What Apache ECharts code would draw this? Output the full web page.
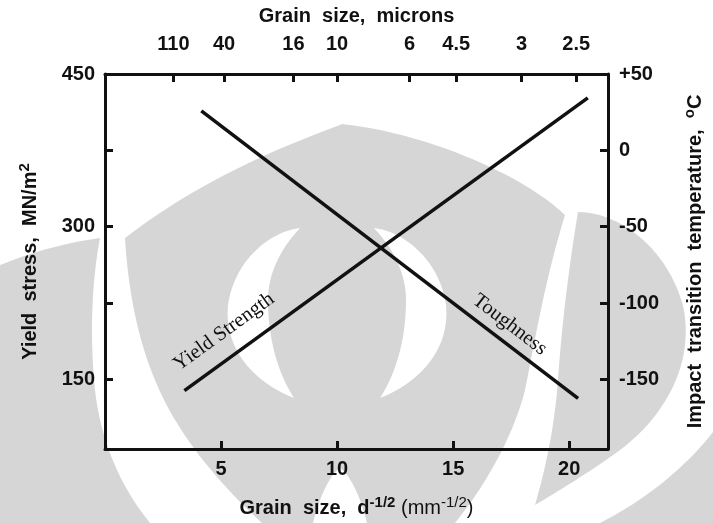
<!DOCTYPE html>
<html><head><meta charset="utf-8">
<script src="https://cdn.jsdelivr.net/npm/echarts@6/dist/echarts.min.js"></script>
<style>html,body{margin:0;padding:0;background:#fff}#c{width:713px;height:523px}</style>
</head><body><div id="c"></div>
<script>
// Data
const yieldX = [3.42, 20.8];
const yieldStress = [139, 426.5];           // MN/m^2, left axis
const toughX = [4.15, 20.38];
const toughTemp = [25.9, -162.4];           // deg C, right axis
const bottomTicks = [5, 10, 15, 20];
const topTickPos = [2.95, 5.13, 8.12, 10.0, 13.12, 15.13, 17.95, 20.3];
const topTickLabels = ['110', '40', '16', '10', '6', '4.5', '3', '2.5'];
const leftTicks = [150, 225, 300, 375, 450];
const leftLabels = [150, 300, 450];
const rightTicks = [-150, -100, -50, 0, 50];
const labelYield = {text: 'Yield Strength', at: [5.13, 196.8]};
const labelTough = {text: 'Toughness', at: [17.44, -114.2]};

const X_MIN = 0, X_MAX = 21.67;
const Y_MIN = 81.6, Y_MAX = 450;
const T_MIN = -195.6, T_MAX = 50;

const sans = '"Liberation Sans", Arial, sans-serif';
const serif = '"Liberation Serif", "Times New Roman", serif';
const ink = '#111';
const wmGray = '#d6d6d6';
const axisLine = {show: true, onZero: false, lineStyle: {color: ink, width: 3}};
const tick = (vals) => ({show: true, inside: true, length: 8, lineStyle: {color: ink, width: 3}, customValues: vals});
const lab = {color: ink, fontFamily: sans, fontWeight: 'bold', fontSize: 20};
const nameRich = {
  a: {fontFamily: sans, fontWeight: 'bold', fontSize: 20, color: ink, lineHeight: 26},
  n: {fontFamily: sans, fontWeight: 'normal', fontSize: 20, color: ink, lineHeight: 26},
  sup: {fontFamily: sans, fontWeight: 'bold', fontSize: 15, color: ink, verticalAlign: 'top', lineHeight: 16},
  supn: {fontFamily: sans, fontWeight: 'normal', fontSize: 15, color: ink, verticalAlign: 'top', lineHeight: 16}
};

// Background watermark (decorative logo shapes in the scanned source)
const watermark = [
  {fill: wmGray, d: 'M342,124 C318,134 215,168 125,238 C128,290 138,340 155,380 C175,430 215,480 262,523 L313,523 C320,495 330,475 340,468 C350,475 360,495 367,523 L455,523 C490,480 515,430 525,390 C535,340 545,280 565,215 C520,172 420,132 342,124 Z'},
  {fill: wmGray, d: 'M-30,280 C0,262 50,245 100,238 C92,280 90,330 94,380 C98,430 115,480 150,523 L-30,523 Z'},
  {fill: wmGray, d: 'M578,212 C620,212 670,250 684,310 C694,370 660,420 620,450 C590,472 560,490 535,505 C548,460 555,420 558,380 C562,320 570,260 578,212 Z'},
  {fill: wmGray, d: 'M713,432 C685,468 645,500 600,523 L713,523 Z'},
  {fill: '#fff', d: 'M300,228 C268,232 234,262 228,305 C224,345 249,380 294,398 C276,370 268,335 268,300 C268,270 284,245 300,228 Z'},
  {fill: '#fff', d: 'M374,228 C406,232 440,262 446,305 C450,345 425,380 380,398 C398,370 406,335 406,300 C406,270 390,245 374,228 Z'}
];

// turn a simple absolute M/L/C/Z path into polygon points
function pathToPoints(d) {
  const tok = d.match(/[MLCZ]|-?\d+(\.\d+)?/g);
  const pts = []; let i = 0, cmd = null, cur = [0, 0];
  const num = () => parseFloat(tok[i++]);
  while (i < tok.length) {
    if (/[MLCZ]/.test(tok[i])) cmd = tok[i++];
    if (cmd === 'Z') break;
    if (cmd === 'M' || cmd === 'L') { cur = [num(), num()]; pts.push(cur); }
    else if (cmd === 'C') {
      const p1 = [num(), num()], p2 = [num(), num()], p3 = [num(), num()], p0 = cur;
      for (let k = 1; k <= 24; k++) {
        const t = k / 24, u = 1 - t;
        pts.push([u*u*u*p0[0] + 3*u*u*t*p1[0] + 3*u*t*t*p2[0] + t*t*t*p3[0],
                  u*u*u*p0[1] + 3*u*u*t*p1[1] + 3*u*t*t*p2[1] + t*t*t*p3[1]]);
      }
      cur = p3;
    }
  }
  return pts;
}

const chart = echarts.init(document.getElementById('c'), null, {renderer: 'canvas'});
const option = {
  animation: false,
  backgroundColor: '#fff',
  grid: {left: 105, right: 101, top: 74, bottom: 72, containLabel: false},
  xAxis: [{
    type: 'value', position: 'bottom', min: X_MIN, max: X_MAX,
    axisLine, axisTick: tick(bottomTicks), splitLine: {show: false},
    axisLabel: Object.assign({}, lab, {customValues: bottomTicks, margin: 10}),
    name: '{a|Grain  size,  d}{sup|-1/2}{n| (mm}{supn|-1/2}{n|)}',
    nameLocation: 'middle', nameGap: 46,
    nameTextStyle: {rich: nameRich}
  }, {
    type: 'value', position: 'top', min: X_MIN, max: X_MAX,
    axisLine, axisTick: tick(topTickPos), splitLine: {show: false},
    axisLabel: Object.assign({}, lab, {customValues: topTickPos, margin: 20,
      formatter: (v) => { const i = topTickPos.findIndex(p => Math.abs(p - v) < 1e-6); return i >= 0 ? topTickLabels[i] : ''; }}),
    name: '{a|Grain  size,  microns}',
    nameLocation: 'middle', nameGap: 45,
    nameTextStyle: {rich: nameRich}
  }],
  yAxis: [{
    type: 'value', position: 'left', min: Y_MIN, max: Y_MAX,
    axisLine, axisTick: tick(leftTicks), splitLine: {show: false},
    axisLabel: Object.assign({}, lab, {customValues: leftLabels, margin: 10}),
    name: '{a|Yield  stress,  MN/m}{sup|2}',
    nameLocation: 'middle', nameGap: 62, nameRotate: 90,
    nameTextStyle: {rich: nameRich}
  }, {
    type: 'value', position: 'right', min: T_MIN, max: T_MAX,
    axisLine, axisTick: tick(rightTicks), splitLine: {show: false},
    axisLabel: Object.assign({}, lab, {customValues: rightTicks, margin: 11,
      formatter: (v) => v > 0 ? '+' + v : String(v)}),
    name: '{a|Impact  transition  temperature,  }{sup|o}{a|C}',
    nameLocation: 'middle', nameGap: 74, nameRotate: 90,
    nameTextStyle: {rich: nameRich}
  }],
  series: [{
    type: 'line', name: 'Yield Strength', xAxisIndex: 0, yAxisIndex: 0,
    data: yieldX.map((x, i) => [x, yieldStress[i]]),
    symbol: 'none', lineStyle: {color: ink, width: 3.5}, z: 5
  }, {
    type: 'line', name: 'Toughness', xAxisIndex: 0, yAxisIndex: 1,
    data: toughX.map((x, i) => [x, toughTemp[i]]),
    symbol: 'none', lineStyle: {color: ink, width: 3.5}, z: 5
  }]
};
chart.setOption(option);

function angleOf(xs, ys, yIdx) {
  const p0 = chart.convertToPixel({xAxisIndex: 0, yAxisIndex: yIdx}, [xs[0], ys[0]]);
  const p1 = chart.convertToPixel({xAxisIndex: 0, yAxisIndex: yIdx}, [xs[1], ys[1]]);
  return Math.atan2(-(p1[1] - p0[1]), p1[0] - p0[0]);
}
const pY = chart.convertToPixel({xAxisIndex: 0, yAxisIndex: 0}, labelYield.at);
const pT = chart.convertToPixel({xAxisIndex: 0, yAxisIndex: 1}, labelTough.at);
const wmEls = watermark.map((w, i) => ({type: 'polygon', silent: true, z: -100 + i,
  shape: {points: pathToPoints(w.d)}, style: {fill: w.fill, stroke: null}}));
chart.setOption({graphic: wmEls.concat([
  {type: 'text', x: pY[0], y: pY[1], rotation: angleOf(yieldX, yieldStress, 0), z: 10,
   style: {text: labelYield.text, font: '20.5px ' + serif, fill: ink, align: 'center', verticalAlign: 'middle'}},
  {type: 'text', x: pT[0], y: pT[1], rotation: angleOf(toughX, toughTemp, 1), z: 10,
   style: {text: labelTough.text, font: '20.5px ' + serif, fill: ink, align: 'center', verticalAlign: 'middle'}}
])});
</script></body></html>
